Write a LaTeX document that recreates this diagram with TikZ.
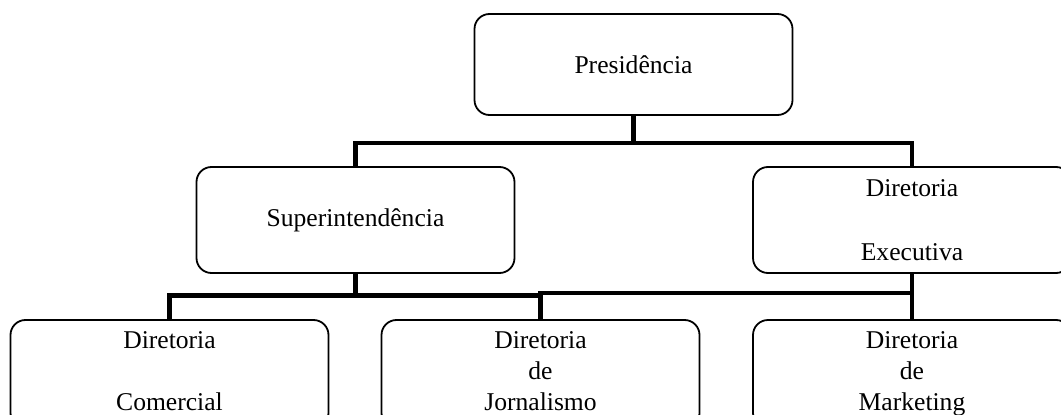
\documentclass[tikz,border=0pt]{standalone}
\usepackage{fontspec}
\setmainfont{Liberation Serif}
\usetikzlibrary{positioning}

\begin{document}
\begin{tikzpicture}
		[x=1pt, y=-1pt,
		 unit/.style={draw, rounded corners=15pt, line width=1.8pt, minimum width=318pt,
		   inner sep=0pt, align=center, font=\fontsize{25.6}{31}\selectfont},
		 link/.style={line width=4.8pt}]
		\useasboundingbox (0,0) rectangle (1061,415);
		\node[unit, minimum height=101pt] (pres) at (633.5,64.5) {Presidência};
		\node[unit, minimum height=106pt] (super) at (355.5,220) {Superintendência};
		\node[unit, minimum height=106pt] (exec) at (912,220) {Diretoria\\[33pt]Executiva};
		\node[unit, minimum height=108pt] (com) at (169.5,374) {Diretoria\\[31pt]Comercial\vphantom{g}};
		\node[unit, minimum height=108pt] (jorn) at (540.5,374) {Diretoria\\de\\Jornalismo\vphantom{g}};
		\node[unit, minimum height=108pt] (mkt) at (912,374) {Diretoria\\de\\Marketing};
		
		\coordinate (bus1) at (633.5,143);
		\coordinate (bus2) at (355.5,295.5);
		\coordinate (bus3) at (912,293);
		\draw[link] (pres.south) -- (bus1);
		\draw[link] (super.north) |- (bus1) -| (exec.north);
		\draw[link] (super.south) -- (bus2);
		\draw[link] (com.north) |- (bus2) -| (jorn.north);
		\draw[link] (exec.south) -- (mkt.north);
		\draw[link] (bus3) -| (jorn.north);
	\end{tikzpicture}
\end{document}
